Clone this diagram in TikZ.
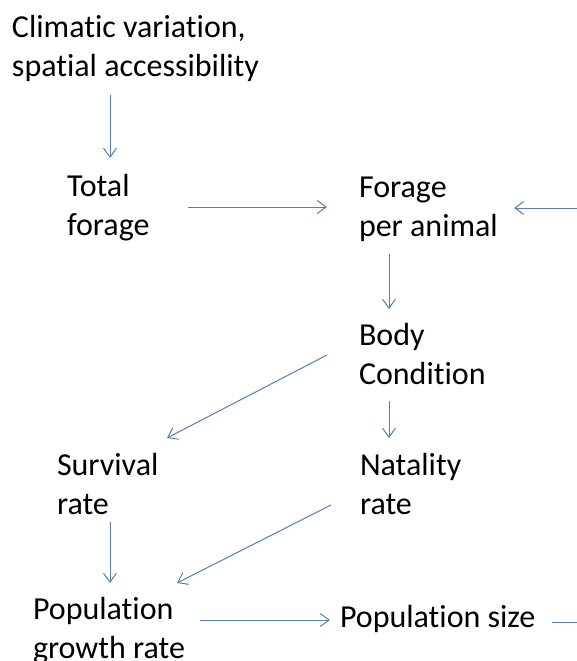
\documentclass[tikz,border=0pt]{standalone}
\usepackage{fontspec}
\setmainfont{Carlito}[Ligatures={NoCommon}]
\usetikzlibrary{arrows.meta}
\definecolor{linecol}{RGB}{88,128,172}
\newcommand{\twoln}[2]{\vtop{\hbox{#1}\hbox{#2}}}
\begin{document}
\begin{tikzpicture}[x=1pt,y=-1pt,
  lbl/.style={anchor=base west,inner sep=0pt,outer sep=0pt,text=black,
    font=\fontsize{32}{39}\selectfont},
  arr/.style={draw=linecol,line width=1.0pt,-{Straight Barb[length=9pt,width=13pt,line width=1.0pt]}},
  ln/.style={draw=linecol,line width=1.0pt}]
\useasboundingbox (0,0) rectangle (577,661);
\fill[white] (0,0) rectangle (577,661);
\node[lbl] (clim) at (12,38) {\twoln{Climatic variation,}{spatial accessibility}};
\node[lbl] (tot) at (67,196) {\twoln{Total}{forage}};
\node[lbl] (fpa) at (359,197) {\twoln{Forage}{per animal}};
\node[lbl] (body) at (359,345) {\twoln{Body}{Condition}};
\node[lbl] (surv) at (57,475) {\twoln{Survival}{rate}};
\node[lbl] (nat) at (360,475) {\twoln{Natality}{rate}};
\node[lbl] (pgr) at (33,619) {\twoln{Population}{growth rate}};
\node[lbl] (psize) at (340,627) {Population size};
\coordinate (rin) at (577,208);
\coordinate (rout) at (577,622);
\draw[arr] ([shift={(98,57)}]clim.base west) -- ([shift={(43,-38)}]tot.base west);
\draw[arr] ([shift={(121,11)}]tot.base west) -- ([shift={(-32,10)}]fpa.base west);
\draw[arr] (rin) -- ([shift={(155,11)}]fpa.base west);
\draw[arr] ([shift={(30,57)}]fpa.base west) -- ([shift={(30,-36)}]body.base west);
\draw[arr] ([shift={(-32,10)}]body.base west) -- ([shift={(110,-37)}]surv.base west);
\draw[arr] ([shift={(30,56)}]body.base west) -- ([shift={(29,-37)}]nat.base west);
\draw[arr] ([shift={(53,47)}]surv.base west) -- ([shift={(77,-36)}]pgr.base west);
\draw[arr] ([shift={(-29,30)}]nat.base west) -- ([shift={(144,-36)}]pgr.base west);
\draw[arr] ([shift={(167,1)}]pgr.base west) -- ([shift={(-10,-7)}]psize.base west);
\draw[ln] ([shift={(212,-5)}]psize.base west) -- (rout);
\end{tikzpicture}
\end{document}
